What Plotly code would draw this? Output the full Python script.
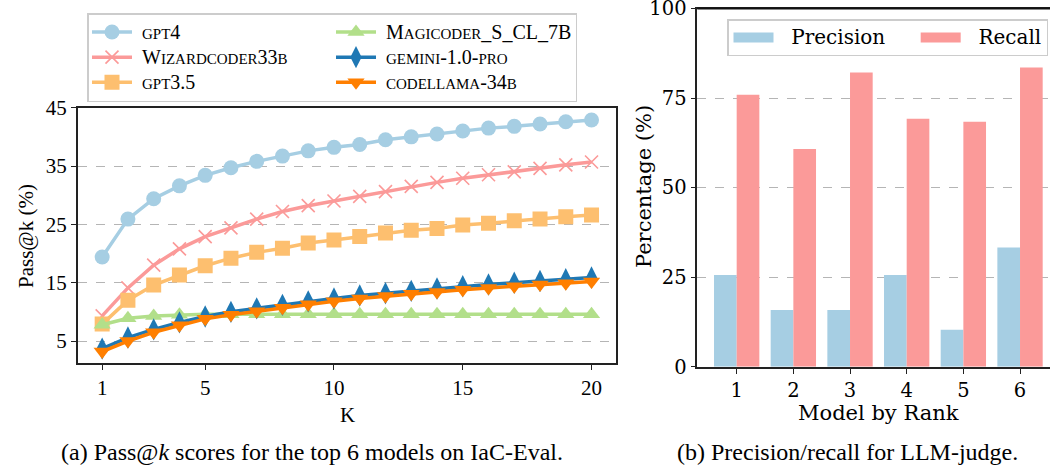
import plotly.graph_objects as go

# ---------------- data ----------------
K = list(range(1, 21))
gpt4 = [19.4, 25.9, 29.4, 31.6, 33.4, 34.7, 35.8, 36.7, 37.6, 38.2,
        38.7, 39.5, 40.0, 40.5, 41.0, 41.5, 41.8, 42.2, 42.6, 42.9]
wizardcoder = [9.3, 14.1, 18.0, 20.8, 22.9, 24.4, 25.9, 27.2, 28.2, 29.0,
               29.8, 30.6, 31.5, 32.2, 32.9, 33.5, 34.0, 34.6, 35.2, 35.7]
gpt35 = [7.9, 12.0, 14.6, 16.3, 17.9, 19.2, 20.2, 20.9, 21.8, 22.3,
         22.9, 23.5, 24.0, 24.3, 24.9, 25.2, 25.6, 25.9, 26.3, 26.6]
magicoder = [7.8, 8.9, 9.3, 9.5, 9.6, 9.6, 9.6, 9.6, 9.6, 9.6,
             9.6, 9.6, 9.6, 9.6, 9.6, 9.6, 9.6, 9.6, 9.6, 9.6]
gemini = [3.7, 5.6, 7.0, 8.2, 9.2, 10.0, 10.6, 11.2, 11.8, 12.3,
          12.8, 13.2, 13.6, 14.0, 14.4, 14.7, 15.0, 15.3, 15.6, 15.9]
codellama = [3.2, 5.0, 6.5, 7.7, 8.8, 9.5, 10.1, 10.7, 11.3, 11.8,
             12.3, 12.7, 13.1, 13.4, 13.8, 14.1, 14.4, 14.7, 14.9, 15.2]

ranks = [1, 2, 3, 4, 5, 6]
precision = [25.6, 15.8, 15.8, 25.6, 10.3, 33.3]
recall = [75.9, 60.8, 82.1, 69.2, 68.4, 83.5]

left_xticks = [1, 5, 10, 15, 20]
left_yticks = [5, 15, 25, 35, 45]
right_yticks = [0, 25, 50, 75, 100]

# ---------------- helpers ----------------
BIG, SC = 20, 15  # legend main size / small-caps size
NB = "\u00a0"


def sc(s):
    """emulate small caps: lowercase letters -> smaller uppercase"""
    out, buf, norm = [], "", NB
    for ch in s:
        if ch.islower():
            if norm:
                out.append(f"<span style='font-size:{BIG}px'>{norm}</span>")
                norm = ""
            buf += ch.upper()
        else:
            if buf:
                out.append(f"<span style='font-size:{SC}px'>{buf}</span>")
                buf = ""
            norm += ch
    if buf:
        out.append(f"<span style='font-size:{SC}px'>{buf}</span>")
    if norm:
        out.append(f"<span style='font-size:{BIG}px'>{norm}</span>")
    return "".join(out)


CM = "Liberation Serif"
DJ = "DejaVu Serif"
W, H = 1050, 467


def px_x(p):
    return p / W


def px_y(p):
    return (H - p) / H


fig = go.Figure()

series = [
    ("gpt4", gpt4, "#a6cee3", "circle", 15, "a"),
    ("Wizardcoder33b", wizardcoder, "#fb9a99", "x-thin", 13, "a"),
    ("gpt3.5", gpt35, "#fdbf6f", "square", 15, "a"),
    ("Magicoder_S_CL_7B", magicoder, "#b2df8a", "triangle-up", 15, "b"),
    ("gemini-1.0-pro", gemini, "#1f78b4", "diamond-tall", 16, "b"),
    ("codellama-34b", codellama, "#ff7f00", "triangle-down", 15, "b"),
]

for name, vals, col, sym, size, grp in series:
    fig.add_trace(go.Scatter(
        x=K, y=vals, name=sc(name), mode="lines+markers",
        line=dict(color=col, width=3.5),
        marker=dict(symbol=sym, size=size, color=col,
                    line=dict(color=col, width=1.6 if sym == "x-thin" else 0)),
        legendgroup=grp, legend="legend",
        xaxis="x", yaxis="y",
    ))

bar_series = [("Precision", precision, "#a6cee3"), ("Recall", recall, "#fb9a99")]
for name, vals, col in bar_series:
    fig.add_trace(go.Bar(x=ranks, y=vals, name=name,
                         marker=dict(color=col, line=dict(width=0)),
                         xaxis="x2", yaxis="y2", showlegend=False))
# legend entries for the bars (patch-like keys)
for name, vals, col in bar_series:
    pad = NB * 4 if name == "Precision" else ""
    label = f"<span style='font-size:20px'>{NB * 2}{name}{pad}</span>"
    fig.add_trace(go.Scatter(x=[None], y=[None], name=label, mode="lines",
                             line=dict(color=col, width=13),
                             xaxis="x2", yaxis="y2", legend="legend2",
                             hoverinfo="skip"))

axis_line = dict(showline=True, linecolor="#222222", linewidth=1.6,
                 ticks="outside", ticklen=5, tickwidth=1.4, tickcolor="#222222",
                 zeroline=False)

R_LEFT, R_TOP, R_BOT = 697.3, 8.5, 366.7

fig.update_layout(
    width=W, height=H,
    margin=dict(l=0, r=0, t=0, b=0, autoexpand=False),
    paper_bgcolor="white", plot_bgcolor="white",
    barmode="group", bargap=0.2, bargroupgap=0,
    xaxis=dict(domain=[px_x(77.7), px_x(616)], range=[0.05, 20.95],
               tickvals=left_xticks, mirror=True, showgrid=False,
               tickfont=dict(family=CM, size=21, color="black"),
               anchor="y", **axis_line),
    yaxis=dict(domain=[px_y(363.3), px_y(107.7)], range=[1.18, 45],
               tickvals=left_yticks, mirror=True, showgrid=True,
               gridcolor="#b5b5b5", griddash="dash", gridwidth=1,
               tickfont=dict(family=CM, size=21, color="black"),
               anchor="x", **axis_line),
    xaxis2=dict(domain=[px_x(R_LEFT), 1.0], range=[0.305, 6.529],
                tickvals=ranks, mirror=True, showgrid=False,
                tickfont=dict(family=DJ, size=19.5, color="black"),
                anchor="y2", **axis_line),
    yaxis2=dict(domain=[px_y(R_BOT), px_y(R_TOP)], range=[0, 100],
                tickvals=right_yticks, mirror=False, showgrid=True,
                gridcolor="#b5b5b5", griddash="dash", gridwidth=1,
                tickfont=dict(family=DJ, size=19.5, color="black"),
                ticklabeloverflow="allow",
                anchor="x2", **axis_line),
    legend=dict(orientation="h", x=px_x(87), y=px_y(13),
                xanchor="left", yanchor="top", traceorder="grouped",
                entrywidth=189, entrywidthmode="pixels",
                bgcolor="rgba(255,255,255,0.85)", bordercolor="#cccccc",
                borderwidth=1.5, font=dict(family=CM, size=17, color="black"),
                tracegroupgap=0, itemwidth=40),
    legend2=dict(orientation="h", x=px_x(727), y=px_y(19),
                 xanchor="left", yanchor="top",
                 bgcolor="rgba(255,255,255,0.85)", bordercolor="#cccccc",
                 borderwidth=1.5, font=dict(family=DJ, size=16, color="black"),
                 itemwidth=40),
    showlegend=True,
    # top spine of the right panel (paper-referenced so it is not clipped)
    shapes=[dict(type="line", xref="paper", yref="paper",
                 x0=px_x(R_LEFT), x1=1.0, y0=px_y(R_TOP), y1=px_y(R_TOP),
                 layer="above", line=dict(color="#111111", width=2))],
)

annotations = [
    dict(text="Pass@k (%)", x=px_x(26), y=px_y(236), textangle=-90,
         font=dict(family=CM, size=21, color="black")),
    dict(text="K", x=px_x(347), y=px_y(415),
         font=dict(family=CM, size=21, color="black")),
    dict(text="Percentage (%)", x=px_x(644), y=px_y(187), textangle=-90,
         font=dict(family=DJ, size=21, color="black")),
    dict(text="Model by Rank", x=px_x(878), y=px_y(413),
         font=dict(family=DJ, size=21, color="black")),
    dict(text="(a) Pass@<i>k</i> scores for the top 6 models on IaC-Eval.",
         x=px_x(312), y=px_y(452),
         font=dict(family=CM, size=24, color="black")),
    dict(text="(b) Precision/recall for LLM-judge.",
         x=px_x(847), y=px_y(452),
         font=dict(family=CM, size=24, color="black")),
]
for a in annotations:
    a.update(xref="paper", yref="paper", xanchor="center", yanchor="middle",
             showarrow=False)
fig.update_layout(annotations=annotations)

fig.write_html("out.html",
               config={"displayModeBar": False},
               post_script="document.body.style.margin='0';"
                           "document.body.style.overflow='hidden';")
